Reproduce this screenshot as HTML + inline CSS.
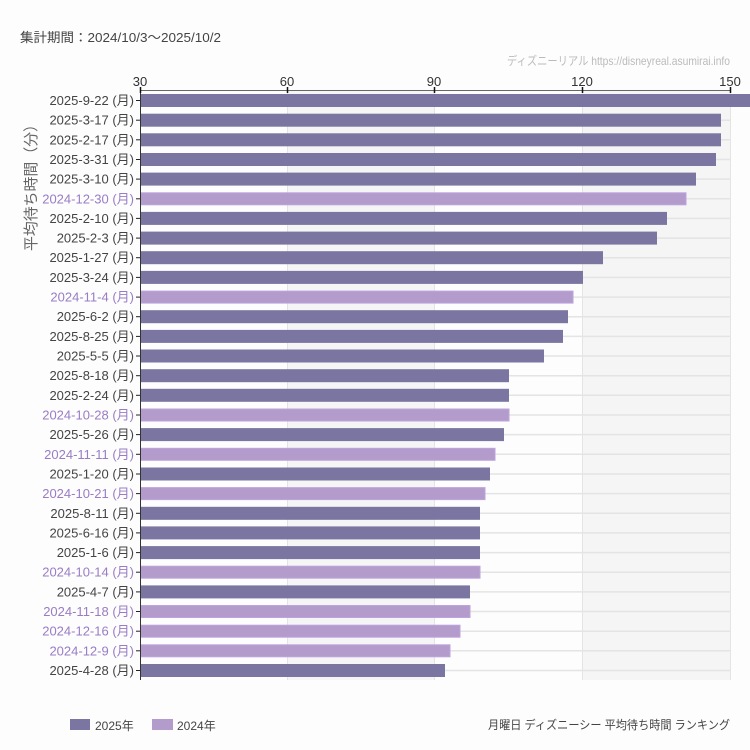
<!DOCTYPE html>
<html><head><meta charset="utf-8">
<style>
html,body{margin:0;padding:0;background:#fcfdfc;}
svg{display:block;}
text{font-family:"Liberation Sans","Noto Sans CJK JP",sans-serif;}
</style></head>
<body>
<svg width="750" height="750" viewBox="0 0 750 750" xmlns="http://www.w3.org/2000/svg">
<rect x="0" y="0" width="750" height="750" fill="#fcfdfc"/>
<text x="20" y="42" font-size="13" fill="#444" textLength="201" lengthAdjust="spacingAndGlyphs">集計期間：2024/10/3〜2025/10/2</text>
<text x="730" y="65" font-size="12" fill="#bbb" text-anchor="end" textLength="223" lengthAdjust="spacingAndGlyphs">ディズニーリアル https://disneyreal.asumirai.info</text>

<!-- bands -->
<rect x="287" y="90" width="147.5" height="590" fill="#f4f5f4"/>
<rect x="582" y="90" width="148.5" height="590" fill="#f4f5f4"/>
<g stroke="#e3e4e3" stroke-width="1">
<line x1="287.5" y1="90" x2="287.5" y2="680"/>
<line x1="434.5" y1="90" x2="434.5" y2="680"/>
<line x1="582.5" y1="90" x2="582.5" y2="680"/>
<line x1="730.5" y1="90" x2="730.5" y2="680"/>
</g>
<!-- horizontal grid at category centers -->
<g stroke="#e3e4e3" stroke-width="1.5">
<line x1="140" x2="730" y1="100.5" y2="100.5"/>
<line x1="140" x2="730" y1="120.2" y2="120.2"/>
<line x1="140" x2="730" y1="139.8" y2="139.8"/>
<line x1="140" x2="730" y1="159.5" y2="159.5"/>
<line x1="140" x2="730" y1="179.1" y2="179.1"/>
<line x1="140" x2="730" y1="198.8" y2="198.8"/>
<line x1="140" x2="730" y1="218.4" y2="218.4"/>
<line x1="140" x2="730" y1="238.1" y2="238.1"/>
<line x1="140" x2="730" y1="257.7" y2="257.7"/>
<line x1="140" x2="730" y1="277.4" y2="277.4"/>
<line x1="140" x2="730" y1="297.1" y2="297.1"/>
<line x1="140" x2="730" y1="316.7" y2="316.7"/>
<line x1="140" x2="730" y1="336.4" y2="336.4"/>
<line x1="140" x2="730" y1="356.0" y2="356.0"/>
<line x1="140" x2="730" y1="375.7" y2="375.7"/>
<line x1="140" x2="730" y1="395.3" y2="395.3"/>
<line x1="140" x2="730" y1="415.0" y2="415.0"/>
<line x1="140" x2="730" y1="434.6" y2="434.6"/>
<line x1="140" x2="730" y1="454.3" y2="454.3"/>
<line x1="140" x2="730" y1="474.0" y2="474.0"/>
<line x1="140" x2="730" y1="493.6" y2="493.6"/>
<line x1="140" x2="730" y1="513.3" y2="513.3"/>
<line x1="140" x2="730" y1="532.9" y2="532.9"/>
<line x1="140" x2="730" y1="552.6" y2="552.6"/>
<line x1="140" x2="730" y1="572.2" y2="572.2"/>
<line x1="140" x2="730" y1="591.9" y2="591.9"/>
<line x1="140" x2="730" y1="611.5" y2="611.5"/>
<line x1="140" x2="730" y1="631.2" y2="631.2"/>
<line x1="140" x2="730" y1="650.8" y2="650.8"/>
<line x1="140" x2="730" y1="670.5" y2="670.5"/>
</g>

<!-- bars -->
<g>
<rect x="140" y="94" width="615" height="13" fill="#7a75a1"/>
<rect x="140" y="113.7" width="581" height="13" fill="#7a75a1"/>
<rect x="140" y="133.3" width="581" height="13" fill="#7a75a1"/>
<rect x="140" y="153" width="576" height="13" fill="#7a75a1"/>
<rect x="140" y="172.6" width="556" height="13" fill="#7a75a1"/>
<rect x="140.5" y="192.8" width="545.5" height="12" fill="#b39ccc" stroke="#bea4de" stroke-width="1"/>
<rect x="140" y="211.9" width="527" height="13" fill="#7a75a1"/>
<rect x="140" y="231.6" width="517" height="13" fill="#7a75a1"/>
<rect x="140" y="251.2" width="463" height="13" fill="#7a75a1"/>
<rect x="140" y="270.9" width="443" height="13" fill="#7a75a1"/>
<rect x="140.5" y="291.1" width="432.5" height="12" fill="#b39ccc" stroke="#bea4de" stroke-width="1"/>
<rect x="140" y="310.2" width="428" height="13" fill="#7a75a1"/>
<rect x="140" y="329.9" width="423" height="13" fill="#7a75a1"/>
<rect x="140" y="349.5" width="404" height="13" fill="#7a75a1"/>
<rect x="140" y="369.2" width="369" height="13" fill="#7a75a1"/>
<rect x="140" y="388.8" width="369" height="13" fill="#7a75a1"/>
<rect x="140.5" y="409" width="368.5" height="12" fill="#b39ccc" stroke="#bea4de" stroke-width="1"/>
<rect x="140" y="428.1" width="364" height="13" fill="#7a75a1"/>
<rect x="140.5" y="448.3" width="354.5" height="12" fill="#b39ccc" stroke="#bea4de" stroke-width="1"/>
<rect x="140" y="467.5" width="350" height="13" fill="#7a75a1"/>
<rect x="140.5" y="487.6" width="344.5" height="12" fill="#b39ccc" stroke="#bea4de" stroke-width="1"/>
<rect x="140" y="506.8" width="340" height="13" fill="#7a75a1"/>
<rect x="140" y="526.4" width="340" height="13" fill="#7a75a1"/>
<rect x="140" y="546.1" width="340" height="13" fill="#7a75a1"/>
<rect x="140.5" y="566.2" width="339.5" height="12" fill="#b39ccc" stroke="#bea4de" stroke-width="1"/>
<rect x="140" y="585.4" width="330" height="13" fill="#7a75a1"/>
<rect x="140.5" y="605.5" width="329.5" height="12" fill="#b39ccc" stroke="#bea4de" stroke-width="1"/>
<rect x="140.5" y="625.2" width="319.5" height="12" fill="#b39ccc" stroke="#bea4de" stroke-width="1"/>
<rect x="140.5" y="644.8" width="309.5" height="12" fill="#b39ccc" stroke="#bea4de" stroke-width="1"/>
<rect x="140" y="664" width="305" height="13" fill="#7a75a1"/>
</g>

<!-- axes -->
<line x1="140" y1="90.5" x2="730" y2="90.5" stroke="#666" stroke-width="1"/>
<line x1="140.5" y1="90" x2="140.5" y2="680" stroke="#333" stroke-width="1"/>
<g stroke="#111" stroke-width="1.5">
<line x1="140.5" y1="87" x2="140.5" y2="93"/>
<line x1="287.5" y1="87" x2="287.5" y2="93"/>
<line x1="434.5" y1="87" x2="434.5" y2="93"/>
<line x1="582.5" y1="87" x2="582.5" y2="93"/>
<line x1="730.5" y1="87" x2="730.5" y2="93"/>
</g>
<g font-size="13" fill="#333" text-anchor="middle">
<text x="140" y="86">30</text>
<text x="287" y="86">60</text>
<text x="434" y="86">90</text>
<text x="582" y="86">120</text>
<text x="730" y="86">150</text>
</g>
<!-- y ticks -->
<g stroke="#222" stroke-width="1">
<line x1="136" x2="140" y1="100.5" y2="100.5"/><line x1="136" x2="140" y1="120.2" y2="120.2"/><line x1="136" x2="140" y1="139.8" y2="139.8"/><line x1="136" x2="140" y1="159.5" y2="159.5"/><line x1="136" x2="140" y1="179.1" y2="179.1"/><line x1="136" x2="140" y1="198.8" y2="198.8"/><line x1="136" x2="140" y1="218.4" y2="218.4"/><line x1="136" x2="140" y1="238.1" y2="238.1"/><line x1="136" x2="140" y1="257.7" y2="257.7"/><line x1="136" x2="140" y1="277.4" y2="277.4"/><line x1="136" x2="140" y1="297.1" y2="297.1"/><line x1="136" x2="140" y1="316.7" y2="316.7"/><line x1="136" x2="140" y1="336.4" y2="336.4"/><line x1="136" x2="140" y1="356.0" y2="356.0"/><line x1="136" x2="140" y1="375.7" y2="375.7"/><line x1="136" x2="140" y1="395.3" y2="395.3"/><line x1="136" x2="140" y1="415.0" y2="415.0"/><line x1="136" x2="140" y1="434.6" y2="434.6"/><line x1="136" x2="140" y1="454.3" y2="454.3"/><line x1="136" x2="140" y1="474.0" y2="474.0"/><line x1="136" x2="140" y1="493.6" y2="493.6"/><line x1="136" x2="140" y1="513.3" y2="513.3"/><line x1="136" x2="140" y1="532.9" y2="532.9"/><line x1="136" x2="140" y1="552.6" y2="552.6"/><line x1="136" x2="140" y1="572.2" y2="572.2"/><line x1="136" x2="140" y1="591.9" y2="591.9"/><line x1="136" x2="140" y1="611.5" y2="611.5"/><line x1="136" x2="140" y1="631.2" y2="631.2"/><line x1="136" x2="140" y1="650.8" y2="650.8"/><line x1="136" x2="140" y1="670.5" y2="670.5"/>
</g>
<!-- y labels -->
<g font-size="13" text-anchor="end">
<text x="134" y="105" fill="#444">2025-9-22 (月)</text>
<text x="134" y="124.7" fill="#444">2025-3-17 (月)</text>
<text x="134" y="144.3" fill="#444">2025-2-17 (月)</text>
<text x="134" y="164" fill="#444">2025-3-31 (月)</text>
<text x="134" y="183.6" fill="#444">2025-3-10 (月)</text>
<text x="134" y="203.3" fill="#9a7cc6">2024-12-30 (月)</text>
<text x="134" y="222.9" fill="#444">2025-2-10 (月)</text>
<text x="134" y="242.6" fill="#444">2025-2-3 (月)</text>
<text x="134" y="262.2" fill="#444">2025-1-27 (月)</text>
<text x="134" y="281.9" fill="#444">2025-3-24 (月)</text>
<text x="134" y="301.6" fill="#9a7cc6">2024-11-4 (月)</text>
<text x="134" y="321.2" fill="#444">2025-6-2 (月)</text>
<text x="134" y="340.9" fill="#444">2025-8-25 (月)</text>
<text x="134" y="360.5" fill="#444">2025-5-5 (月)</text>
<text x="134" y="380.2" fill="#444">2025-8-18 (月)</text>
<text x="134" y="399.8" fill="#444">2025-2-24 (月)</text>
<text x="134" y="419.5" fill="#9a7cc6">2024-10-28 (月)</text>
<text x="134" y="439.1" fill="#444">2025-5-26 (月)</text>
<text x="134" y="458.8" fill="#9a7cc6">2024-11-11 (月)</text>
<text x="134" y="478.5" fill="#444">2025-1-20 (月)</text>
<text x="134" y="498.1" fill="#9a7cc6">2024-10-21 (月)</text>
<text x="134" y="517.8" fill="#444">2025-8-11 (月)</text>
<text x="134" y="537.4" fill="#444">2025-6-16 (月)</text>
<text x="134" y="557.1" fill="#444">2025-1-6 (月)</text>
<text x="134" y="576.7" fill="#9a7cc6">2024-10-14 (月)</text>
<text x="134" y="596.4" fill="#444">2025-4-7 (月)</text>
<text x="134" y="616" fill="#9a7cc6">2024-11-18 (月)</text>
<text x="134" y="635.7" fill="#9a7cc6">2024-12-16 (月)</text>
<text x="134" y="655.3" fill="#9a7cc6">2024-12-9 (月)</text>
<text x="134" y="675" fill="#444">2025-4-28 (月)</text>
</g>
<!-- y axis title -->
<text transform="translate(36,184) rotate(-90)" font-size="15" fill="#666" text-anchor="middle" textLength="134" lengthAdjust="spacingAndGlyphs">平均待ち時間（分）</text>

<!-- legend -->
<rect x="70" y="719" width="20" height="11" fill="#7a75a1"/>
<text x="95" y="730" font-size="12" fill="#444">2025年</text>
<rect x="152" y="719" width="21" height="11" fill="#b39ccc"/>
<text x="177" y="730" font-size="12" fill="#444">2024年</text>
<text x="730" y="729" font-size="12" fill="#444" text-anchor="end" textLength="242" lengthAdjust="spacingAndGlyphs">月曜日 ディズニーシー 平均待ち時間 ランキング</text>
</svg>
</body></html>
